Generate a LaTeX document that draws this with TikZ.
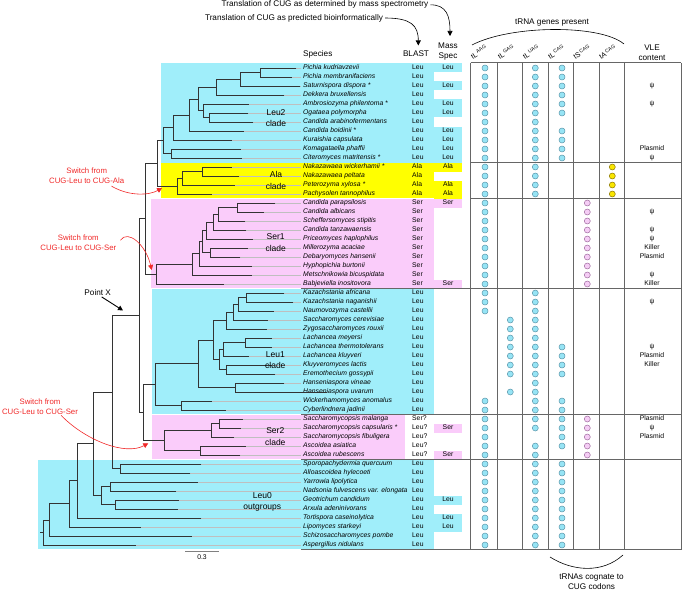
\documentclass[tikz,border=0pt]{standalone}
\usepackage{fontspec}
\setmainfont{Liberation Sans}
\usetikzlibrary{positioning,arrows.meta}
\definecolor{leucyan}{RGB}{160,238,250}
\definecolor{serpink}{RGB}{250,204,250}
\definecolor{alayellow}{RGB}{255,255,0}
\definecolor{cyandot}{RGB}{150,228,245}
\definecolor{cyanrim}{RGB}{90,150,170}
\definecolor{pinkdot}{RGB}{245,205,245}
\definecolor{pinkrim}{RGB}{160,110,160}
\definecolor{yellowdot}{RGB}{250,230,0}
\definecolor{yellowrim}{RGB}{140,120,0}
\definecolor{switchred}{RGB}{240,40,40}

\tikzset{
  branch/.style={line width=0.9pt, black!80, line cap=rect},
  guide/.style={line width=0.3pt, black!25},
  species/.style={anchor=west, inner sep=0pt, text height=4.9pt, text depth=1.4pt,
    font=\fontsize{6.8}{8}\selectfont\itshape},
  cell/.style={inner sep=0pt, text height=4.9pt, text depth=1.4pt,
    font=\fontsize{6.8}{8}\selectfont},
  head/.style={font=\fontsize{8.2}{10}\selectfont, inner sep=0pt, align=center},
  colname/.style={font=\fontsize{7.2}{8}\selectfont, inner sep=0pt, anchor=base west, rotate=32},
  cladename/.style={font=\fontsize{8.5}{11.5}\selectfont, inner sep=0pt, align=center},
  switchnote/.style={font=\fontsize{7.8}{10}\selectfont, text=switchred, inner sep=0pt, align=center},
  switcharrow/.style={switchred, line width=0.6pt, -{Triangle[width=5pt,length=5pt]}},
  toparrow/.style={black, line width=0.6pt, -{Triangle[width=5pt,length=5pt]}},
  trnadot/.style={circle, inner sep=0pt, minimum size=6pt, line width=0.5pt},
  leudot/.style={trnadot, draw=cyanrim, fill=cyandot},
  serdot/.style={trnadot, draw=pinkrim, fill=pinkdot},
  aladot/.style={trnadot, draw=yellowrim, fill=yellowdot},
  tableline/.style={line width=1pt, black!60},
}
\newcommand\joinpair[3]{\draw[branch] (#1) |- (#2) (#1) |- (#3);}

\begin{document}
\begin{tikzpicture}[x=1pt,y=-1pt]
\useasboundingbox (0,0) rectangle (682,591);

% clade backgrounds
\fill[leucyan] (161,63) rectangle (434,162.5);
\fill[alayellow] (161,162.5) rectangle (434,197.7);
\fill[serpink] (151,198.7) rectangle (434,288);
\fill[leucyan] (152,288.5) rectangle (434,414);
\fill[serpink] (152,414.5) rectangle (405,458.5);
\fill[leucyan] (38,459.5) rectangle (434,549);

% mass spectrometry cells
\foreach \r/\aa/\cc in {0/Leu/leucyan, 2/Leu/leucyan, 4/Leu/leucyan, 5/Leu/leucyan,
    7/Leu/leucyan, 8/Leu/leucyan, 9/Leu/leucyan, 10/Leu/leucyan,
    11/Ala/alayellow, 13/Ala/alayellow, 14/Ala/alayellow,
    15/Ser/serpink, 24/Ser/serpink, 40/Ser/serpink, 43/Ser/serpink,
    48/Leu/leucyan, 50/Leu/leucyan, 51/Leu/leucyan} {
  \fill[\cc] (434,{68+9*\r-4.5}) rectangle (462,{68+9*\r+4.5});
  \node[cell] (ms\r) at (448,{68+9*\r}) {\aa};
}

% species and tips
\foreach \nm/\tx [count=\i from 0] in {
    Pichia kudriavzevii/296, Pichia membranifaciens/291.7, Saturnispora dispora */300,
    Dekkera bruxellensis/284, Ambrosiozyma philentoma */248.3, Ogataea polymorpha/248,
    Candida arabinofermentans/253, Candida boidinii */243.3, Kuraishia capsulata/231.7,
    Komagataella phaffii/240.7, Citeromyces matritensis */241.7,
    Nakazawaea wickerhamii */231.7, Nakazawaea peltata/239, Peterozyma xylosa */234.3,
    Pachysolen tannophilus/211.7,
    Candida parapsilosis/275, Candida albicans/263.3, Scheffersomyces stipitis/245,
    Candida tanzawaensis/246, Priceomyces haplophilus/252.7, Millerozyma acaciae/247.3,
    Debaryomyces hansenii/240, Hyphopichia burtonii/251.7, Metschnikowia bicuspidata/251.7,
    Babjeviella inositovora/223.3,
    Kazachstania africana/284, Kazachstania naganishii/293, Naumovozyma castellii/273.3,
    Saccharomyces cerevisiae/267.7, Zygosaccharomyces rouxii/266.7, Lachancea meyersi/271.7,
    Lachancea thermotolerans/271.7, Lachancea kluyveri/248.3, Kluyveromyces lactis/271.7,
    Eremothecium gossypii/275, Hanseniaspora vineae/284, Hanseniaspora uvarum/327,
    Wickerhamomyces anomalus/211.7, Cyberlindnera jadinii/225.3,
    Saccharomycopsis malanga/242.7, Saccharomycopsis capsularis */240.7,
    Saccharomycopsis fibuligera/233.3, Ascoidea asiatica/245.7, Ascoidea rubescens/240,
    Sporopachydermia quercuum/201, Alloascoidea hylecoeti/190, Yarrowia lipolytica/197.3,
    Nadsonia fulvescens var. elongata/176, Geotrichum candidum/178.7,
    Arxula adeninivorans/177.7, Tortispora caseinolytica/201, Lipomyces starkeyi/140.7,
    Schizosaccharomyces pombe/191.7, Aspergillus nidulans/135.7} {
  \coordinate (t\i) at (\tx,{68+9*\i});
  \draw[guide] (t\i) -- (301,{68+9*\i});
  \node[species] (sp\i) at (303,{68+9*\i}) {\nm};
}

% BLAST column
\foreach \a/\b/\aa in {0/10/Leu, 11/14/Ala, 15/24/Ser, 25/38/Leu, 39/39/Ser?, 40/43/Leu?, 44/53/Leu}
  \foreach \r in {\a,...,\b}
    \node[cell, anchor=west] (bl\r) at (412,{68+9*\r}) {\aa};

% Leu2 clade
\coordinate (l2a) at (260.7,72.5);
\coordinate (l2b) at (240.7,79.3);
\coordinate (l2c) at (216.7,87.1);
\coordinate (l2d) at (209.3,117.5);
\coordinate (l2e) at (203,110.8);
\coordinate (l2f) at (198,99);
\coordinate (l2g) at (189.3,115);
\coordinate (l2h) at (173.3,127.5);
\coordinate (l2i) at (171,153.5);
\coordinate (l2root) at (163.3,140.5);
\joinpair{l2a}{t0}{t1}
\joinpair{l2b}{l2a}{t2}
\joinpair{l2c}{l2b}{t3}
\joinpair{l2d}{t5}{t6}
\joinpair{l2e}{t4}{l2d}
\joinpair{l2f}{l2c}{l2e}
\joinpair{l2g}{l2f}{t7}
\joinpair{l2h}{l2g}{t8}
\joinpair{l2i}{t9}{t10}
\joinpair{l2root}{l2h}{l2i}
% Ala clade
\coordinate (ala) at (202.3,171.5);
\coordinate (alb) at (182.7,178.3);
\coordinate (alroot) at (177.7,186.1);
\coordinate (nla) at (157.3,163.3);
\joinpair{ala}{t11}{t12}
\joinpair{alb}{ala}{t13}
\joinpair{alroot}{alb}{t14}
\joinpair{nla}{l2root}{alroot}
% Ser1 clade
\coordinate (s1a) at (237.3,207.5);
\coordinate (s1b) at (218.3,214.3);
\coordinate (s1c) at (213.3,222.1);
\coordinate (s1d) at (206.7,230.6);
\coordinate (s1e) at (210.7,252.5);
\coordinate (s1f) at (202.3,241.5);
\coordinate (s1g) at (199,253.8);
\coordinate (s1h) at (192.3,264.4);
\coordinate (s1root) at (156,274.2);
\coordinate (nlas) at (145.7,218.7);
\joinpair{s1a}{t15}{t16}
\joinpair{s1b}{s1a}{t17}
\joinpair{s1c}{s1b}{t18}
\joinpair{s1d}{s1c}{t19}
\joinpair{s1e}{t20}{t21}
\joinpair{s1f}{s1d}{s1e}
\joinpair{s1g}{s1f}{t22}
\joinpair{s1h}{s1g}{t23}
\joinpair{s1root}{s1h}{t24}
\joinpair{nlas}{nla}{s1root}
% Leu1 clade
\coordinate (l1a) at (246.7,297.5);
\coordinate (l1b) at (238.3,304.3);
\coordinate (l1c) at (233.3,312.1);
\coordinate (l1d) at (226.7,320.6);
\coordinate (l1e) at (245.7,342.5);
\coordinate (l1f) at (223.3,349.3);
\coordinate (l1g) at (226.7,369.5);
\coordinate (l1h) at (219,359.4);
\coordinate (l1i) at (213.3,340);
\coordinate (l1j) at (235.7,387.5);
\coordinate (l1k) at (198.7,363.8);
\coordinate (l1l) at (181.7,405.5);
\coordinate (l1root) at (155,384.6);
\joinpair{l1a}{t25}{t26}
\joinpair{l1b}{l1a}{t27}
\joinpair{l1c}{l1b}{t28}
\joinpair{l1d}{l1c}{t29}
\joinpair{l1e}{t30}{t31}
\joinpair{l1f}{l1e}{t32}
\joinpair{l1g}{t33}{t34}
\joinpair{l1h}{l1f}{l1g}
\joinpair{l1i}{l1d}{l1h}
\joinpair{l1j}{t35}{t36}
\joinpair{l1k}{l1i}{l1j}
\joinpair{l1l}{t37}{t38}
\joinpair{l1root}{l1k}{l1l}
% Ser2 clade
\coordinate (s2a) at (219,423.5);
\coordinate (s2b) at (211,430.3);
\coordinate (s2c) at (200,450.5);
\coordinate (s2root) at (164.3,440.4);
\coordinate (nls) at (143.3,412.5);
\coordinate (ncug) at (139,315.6);
\joinpair{s2a}{t39}{t40}
\joinpair{s2b}{s2a}{t41}
\joinpair{s2c}{t42}{t43}
\joinpair{s2root}{s2b}{s2c}
\joinpair{nls}{l1root}{s2root}
\joinpair{ncug}{nlas}{nls}
% Leu0 outgroups
\coordinate (l0a) at (120,468.5);
\coordinate (l0b) at (112.7,392);
\coordinate (l0c) at (110,486.5);
\coordinate (l0d) at (115,504.5);
\coordinate (l0e) at (101.7,495.5);
\coordinate (l0f) at (93.3,443.8);
\coordinate (l0g) at (77.3,480.9);
\coordinate (l0h) at (69.3,503.9);
\coordinate (l0i) at (49,520);
\coordinate (l0root) at (43.3,532.5);
\coordinate (stub) at (40.5,532.5);
\joinpair{l0a}{t44}{t45}
\joinpair{l0b}{ncug}{l0a}
\joinpair{l0c}{t46}{t47}
\joinpair{l0d}{t48}{t49}
\joinpair{l0e}{l0c}{l0d}
\joinpair{l0f}{l0b}{l0e}
\joinpair{l0g}{l0f}{t50}
\joinpair{l0h}{l0g}{t51}
\joinpair{l0i}{l0h}{t52}
\joinpair{l0root}{l0i}{t53}
\draw[branch] (stub) -- (l0root);

% clade names
\node[cladename] (leu2name) at (276,118.2) {Leu2\\clade};
\node[cladename] (alaname) at (276,180.5) {Ala\\clade};
\node[cladename] (ser1name) at (275.7,242.8) {Ser1\\clade};
\node[cladename] (leu1name) at (275.3,360) {Leu1\\clade};
\node[cladename] (ser2name) at (275.3,436.7) {Ser2\\clade};
\node[cladename] (leu0name) at (262.3,501.7) {Leu0\\outgroups};

% switches
\node[switchnote] (swala) at (86.7,176) {Switch from\\CUG-Leu to CUG-Ala};
\node[switchnote] (swser1) at (78.3,242.8) {Switch from\\CUG-Leu to CUG-Ser};
\node[switchnote] (swser2) at (40,406.3) {Switch from\\CUG-Leu to CUG-Ser};
\coordinate (swalaend) at (162,188);
\coordinate (swser1end) at (151.7,270);
\coordinate (swser2end) at (148.3,443.3);
\draw[switcharrow] ([xshift=-13pt,yshift=-2pt]swala.south east) .. controls (130,197) and (150,195) .. (swalaend);
\draw[switcharrow] ([xshift=4pt,yshift=-5.5pt]swser1.north east) .. controls (128,229) and (146,245) .. (swser1end);
\draw[switcharrow] ([xshift=-17pt,yshift=-1pt]swser2.south east) .. controls (85,440) and (125,456) .. (swser2end);

% point X
\node[head] (pointx) at (97.7,292.7) {Point X};
\coordinate (pointxend) at (123,310.5);
\draw[toparrow, line width=0.9pt] ([xshift=4pt,yshift=-1pt]pointx.south) -- (pointxend);

% scale bar
\coordinate (barl) at (185,551.5);
\coordinate (barr) at (219,551.5);
\draw[gray, line width=0.6pt] (barl) -- (barr);
\node[cell] (barlabel) at (202,558) {0.3};

% table of tRNA genes
\foreach \cx in {470.7,497.7,522.7,548,573.3,599,624.3,681}
  \draw[tableline] (\cx,63) -- (\cx,549.5);
\foreach \hy in {63,162.5,198}
  \draw[tableline] (470.7,\hy) -- (681,\hy);
\foreach \hy in {288.5,414,459,549.5}
  \draw[tableline] (301,\hy) -- (681,\hy);

\foreach \col/\cx/\a/\b in {aag/485/0/27, aag/485/37/53, gag/510.3/28/34, gag/510.3/36/36,
    uag/535.3/0/14, uag/535.3/25/40, uag/535.3/42/53,
    cag/562/0/5, cag/562/7/10, cag/562/31/34, cag/562/37/42, cag/562/44/53}
  \foreach \r in {\a,...,\b}
    \node[leudot] (\col\r) at (\cx,{68+9*\r}) {};
\foreach \a/\b in {15/24, 39/43}
  \foreach \r in {\a,...,\b}
    \node[serdot] (tscag\r) at (587.3,{68+9*\r}) {};
\foreach \r in {11,...,14}
  \node[aladot] (tacag\r) at (612.3,{68+9*\r}) {};

% VLE content
\foreach \r/\vle in {2/ψ, 4/ψ, 9/Plasmid, 10/ψ, 16/ψ, 18/ψ, 19/ψ, 20/Killer, 21/Plasmid,
    23/ψ, 24/Killer, 26/ψ, 31/ψ, 32/Plasmid, 33/Killer, 39/Plasmid, 40/ψ, 41/Plasmid}
  \node[cell] (vle\r) at (652,{68+9*\r}) {\vle};

% headers
\node[head, anchor=west] (sphead) at (303,54) {Species};
\node[head] (blasthead) at (416,54) {BLAST};
\node[head] (mshead) at (448,52) {Mass\\Spec};
\node[head] (vlehead) at (652,52.5) {VLE\\content};
\node[head] (trnahead) at (552,23) {tRNA genes present};
\foreach \cx/\aa/\nm [count=\k] in {470.7/L/AAG, 497.7/L/GAG, 522.7/L/UAG, 548/L/CAG, 573.3/S/CAG, 599/A/CAG}
  \node[colname] (colhead\k) at (\cx+2,60) {t\aa\,\textsuperscript{\nm}};
\coordinate (genesl) at (472,45);
\coordinate (genesr) at (624,44);
\draw[line width=0.6pt] (genesl) .. controls (510,25) and (600,24) .. (genesr);
\coordinate (cognl) at (550,557);
\coordinate (cognr) at (623,555);
\draw[line width=0.6pt] (cognl) .. controls (572,571) and (602,574) .. (cognr);
\node[head] (cognate) at (591.5,582) {tRNAs cognate to\\CUG codons};

% notes at the top
\node[head] (msnote) at (325,4.8) {Translation of CUG as determined by mass spectrometry};
\node[head] (bionote) at (294,18) {Translation of CUG as predicted bioinformatically};
\coordinate (msend) at (450,36);
\coordinate (blastend) at (418.3,45.5);
\draw[toparrow] ([xshift=2pt]msnote.east) .. controls +(16,0) and +(0,-20) .. (msend);
\draw[toparrow] ([xshift=2pt]bionote.east) .. controls +(26,0) and +(0,-20) .. (blastend);
\end{tikzpicture}
\end{document}
